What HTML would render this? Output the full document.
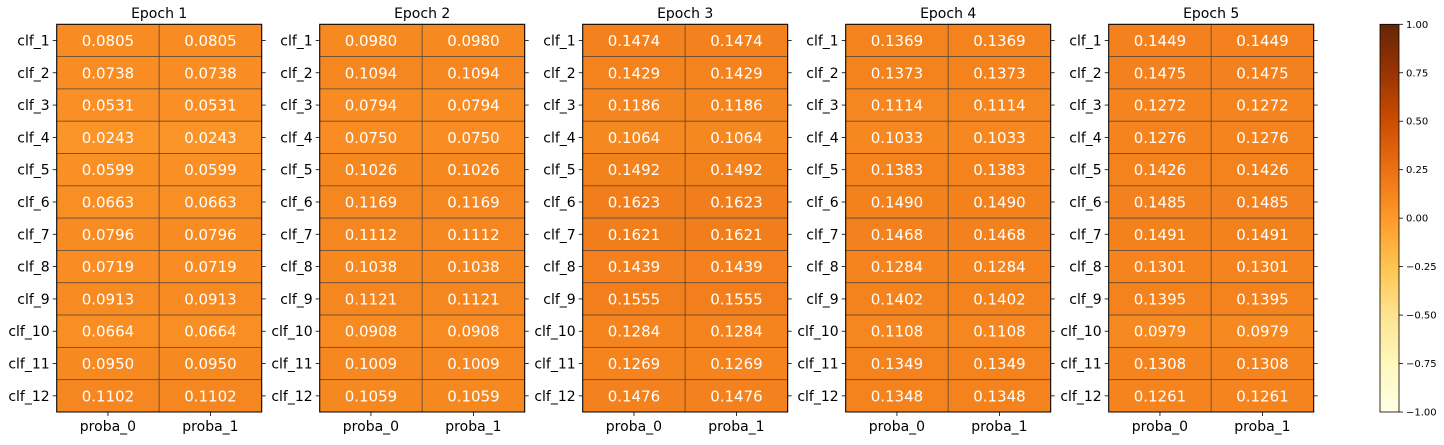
<!DOCTYPE html>
<html><head><meta charset="utf-8"><style>
body{margin:0;background:#fff;}
svg text{font-family:"DejaVu Sans","Liberation Sans",sans-serif;}
</style></head><body>
<svg id="chart" width="1444" height="440" xmlns="http://www.w3.org/2000/svg">
<defs>
<linearGradient id="cbgrad" x1="0" y1="1" x2="0" y2="0">
<stop offset="0" stop-color="#ffffe5"/><stop offset="0.125" stop-color="#fff7bc"/><stop offset="0.25" stop-color="#fee391"/><stop offset="0.375" stop-color="#fec44f"/><stop offset="0.5" stop-color="#fe9929"/><stop offset="0.625" stop-color="#ec7014"/><stop offset="0.75" stop-color="#cc4c02"/><stop offset="0.875" stop-color="#993404"/><stop offset="1" stop-color="#662506"/>
</linearGradient>
</defs>
</svg>
<script>
const epochTitles=["Epoch 1","Epoch 2","Epoch 3","Epoch 4","Epoch 5"];
const rowLabels=["clf_1","clf_2","clf_3","clf_4","clf_5","clf_6","clf_7","clf_8","clf_9","clf_10","clf_11","clf_12"];
const colLabels=["proba_0","proba_1"];
const epoch1=[0.0805,0.0738,0.0531,0.0243,0.0599,0.0663,0.0796,0.0719,0.0913,0.0664,0.0950,0.1102];
const epoch2=[0.0980,0.1094,0.0794,0.0750,0.1026,0.1169,0.1112,0.1038,0.1121,0.0908,0.1009,0.1059];
const epoch3=[0.1474,0.1429,0.1186,0.1064,0.1492,0.1623,0.1621,0.1439,0.1555,0.1284,0.1269,0.1476];
const epoch4=[0.1369,0.1373,0.1114,0.1033,0.1383,0.1490,0.1468,0.1284,0.1402,0.1108,0.1349,0.1348];
const epoch5=[0.1449,0.1475,0.1272,0.1276,0.1426,0.1485,0.1491,0.1301,0.1395,0.0979,0.1308,0.1261];
const cbTicks=[1.00,0.75,0.50,0.25,0.00,-0.25,-0.50,-0.75,-1.00];
const epochs=[epoch1,epoch2,epoch3,epoch4,epoch5];
const vmin=-1,vmax=1;
const stops=["#ffffe5","#fff7bc","#fee391","#fec44f","#fe9929","#ec7014","#cc4c02","#993404","#662506"].map(h=>[1,3,5].map(i=>parseInt(h.substr(i,2),16)));
function cmap(v){let t=(v-vmin)/(vmax-vmin);t=Math.max(0,Math.min(1,t))*(stops.length-1);const i=Math.min(Math.floor(t),stops.length-2),f=t-i;
return "rgb("+stops[i].map((c,k)=>Math.round(c+(stops[i+1][k]-c)*f)).join(",")+")";}
const NS="http://www.w3.org/2000/svg",svg=document.getElementById('chart');
function mk(tag,attrs,parent,txt){const e=document.createElementNS(NS,tag);for(const k in attrs)e.setAttribute(k,attrs[k]);if(txt!==undefined)e.textContent=txt;(parent||svg).appendChild(e);return e;}
const top0=24.3,bot=412,pw=205,x0=56.7,gap=263;
const rh=(bot-top0)/rowLabels.length,cw=pw/colLabels.length;
const fmt=v=>v.toFixed(4);
epochs.forEach((data,p)=>{
  const px=x0+p*gap;
  const g=mk('g',{});
  
  
  const t=mk('text',{x:px+pw/2,y:18,'text-anchor':'middle','font-size':14,fill:'#000'},g,epochTitles[p]);
  
  
  data.forEach((v,r)=>{
    colLabels.forEach((c,ci)=>{
      const cell=mk('rect',{x:px+ci*cw,y:top0+r*rh,width:cw,height:rh,fill:cmap(v),stroke:'rgba(60,60,60,0.7)','stroke-width':0.8},g);
      
      
      const tx=mk('text',{x:px+ci*cw+cw/2,y:top0+r*rh+rh/2+5.5,'text-anchor':'middle','font-size':15,fill:'#fff'},g,fmt(v));
      
      
    });
  });
  rowLabels.forEach((l,r)=>{
    const y=top0+r*rh+rh/2;
    mk('line',{x1:px-4,x2:px,y1:y,y2:y,stroke:'#000','stroke-width':0.8},g);
    mk('line',{x1:px+pw,x2:px+pw+4,y1:y,y2:y,stroke:'#000','stroke-width':0.8},g);
    const lt=mk('text',{x:px-7,y:y+5,'text-anchor':'end','font-size':14,fill:'#000'},g,l);
    
    
  });
  colLabels.forEach((c,ci)=>{
    const x=px+ci*cw+cw/2;
    mk('line',{x1:x,x2:x,y1:bot,y2:bot+4,stroke:'#000','stroke-width':0.8},g);
    const ct=mk('text',{x:x,y:bot+19,'text-anchor':'middle','font-size':14,fill:'#000'},g,c);
    
    
  });
  mk('rect',{x:px,y:top0,width:pw,height:bot-top0,fill:'none',stroke:'#000','stroke-width':1},g);
});
// colorbar
const cbx=1380,cbw=19;
const cb=mk('g',{});


mk('rect',{x:cbx,y:top0,width:cbw,height:bot-top0,fill:'url(#cbgrad)',stroke:'#000','stroke-width':0.8},cb);
const cy=v=>bot-(v-vmin)/(vmax-vmin)*(bot-top0);
cbTicks.forEach(v=>{
  const y=cy(v);
  mk('line',{x1:cbx+cbw,x2:cbx+cbw+4,y1:y,y2:y,stroke:'#000','stroke-width':0.8},cb);
  const tt=mk('text',{x:cbx+cbw+7,y:y+3.5,'font-size':10,fill:'#000'},cb,(v<0?"\u2212":"")+Math.abs(v).toFixed(2));
  
  
});
</script>
</body></html>
